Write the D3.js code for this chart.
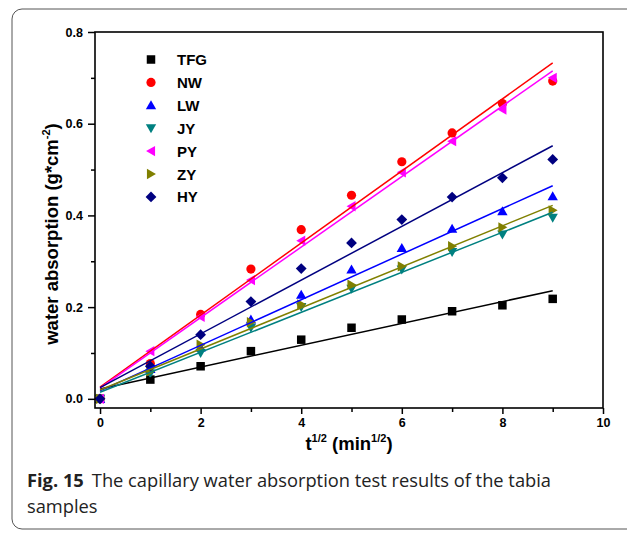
<!DOCTYPE html>
<html><head><meta charset="utf-8">
<script src="https://cdn.jsdelivr.net/npm/d3@7"></script>
<style>body{margin:0;background:#fff}svg{display:block}</style>
</head><body>
<svg id="c" width="627" height="542"></svg>
<script>
const xValues = [0, 1, 2, 3, 4, 5, 6, 7, 8, 9];
const TFG = [0, 0.042, 0.071, 0.104, 0.129, 0.155, 0.173, 0.191, 0.204, 0.218];
const NW  = [0, 0.077, 0.184, 0.283, 0.369, 0.444, 0.517, 0.580, 0.644, 0.693];
const LW  = [0, 0.065, 0.112, 0.173, 0.227, 0.282, 0.329, 0.371, 0.409, 0.442];
const JY  = [0, 0.055, 0.100, 0.155, 0.200, 0.240, 0.282, 0.320, 0.358, 0.395];
const PY  = [0, 0.104, 0.179, 0.259, 0.345, 0.420, 0.494, 0.562, 0.631, 0.700];
const ZY  = [0, 0.060, 0.118, 0.167, 0.206, 0.249, 0.289, 0.333, 0.374, 0.411];
const HY  = [0, 0.071, 0.140, 0.212, 0.284, 0.340, 0.391, 0.440, 0.482, 0.522];
const seriesNames = ["TFG", "NW", "LW", "JY", "PY", "ZY", "HY"];
const xTicks = [0, 2, 4, 6, 8, 10];
const yTicks = [0.0, 0.2, 0.4, 0.6, 0.8];

const seriesData = {TFG, NW, LW, JY, PY, ZY, HY};
const colors = {TFG:"#000000", NW:"#ff0000", LW:"#0000ff", JY:"#008080", PY:"#ff00ff", ZY:"#808000", HY:"#000080"};
const shapes = {TFG:"square", NW:"circle", LW:"up", JY:"down", PY:"left", ZY:"right", HY:"diamond"};

const svg = d3.select("#c");
const L = 95, R = 603, T = 32, B = 408;
const x = d3.scaleLinear().domain([-0.1, 10]).range([L, R]);
const y = d3.scaleLinear().domain([-0.02, 0.8]).range([B, T]);

// outer frame (rounded, right side off-canvas)
svg.append("rect").attr("x", 12).attr("y", 9).attr("width", 640).attr("height", 520)
  .attr("rx", 10).attr("fill", "none").attr("stroke", "#555").attr("stroke-width", 1);

function symbolPath(shape, s) {
  const h = s / 2;
  switch (shape) {
    case "square": return `M${-h},${-h}H${h}V${h}H${-h}Z`;
    case "up": return `M0,${-h*1.1}L${h*1.15},${h*0.9}L${-h*1.15},${h*0.9}Z`;
    case "down": return `M0,${h*1.1}L${h*1.15},${-h*0.9}L${-h*1.15},${-h*0.9}Z`;
    case "left": return `M${-h*1.1},0L${h*0.9},${-h*1.15}L${h*0.9},${h*1.15}Z`;
    case "right": return `M${h*1.1},0L${-h*0.9},${-h*1.15}L${-h*0.9},${h*1.15}Z`;
    case "diamond": return `M0,${-h*1.2}L${h*1.2},0L0,${h*1.2}L${-h*1.2},0Z`;
  }
}
function drawSymbol(g, shape, cx, cy, color) {
  if (shape === "circle") {
    g.append("circle").attr("cx", cx).attr("cy", cy).attr("r", 4.6).attr("fill", color);
  } else {
    const s = shape === "square" ? 8.5 : 9;
    g.append("path").attr("d", symbolPath(shape, s)).attr("transform", `translate(${cx},${cy})`).attr("fill", color);
  }
}

// linear fits
function fit(ys) {
  const n = xValues.length;
  const mx = d3.mean(xValues), my = d3.mean(ys);
  let sxy = 0, sxx = 0;
  for (let i = 0; i < n; i++) { sxy += (xValues[i]-mx)*(ys[i]-my); sxx += (xValues[i]-mx)**2; }
  const b = sxy / sxx; return {a: my - b*mx, b};
}

const plot = svg.append("g");
seriesNames.forEach(name => {
  const ys = seriesData[name];
  const g = plot.append("g");
  xValues.forEach((xv, i) => drawSymbol(g, shapes[name], x(xv), y(ys[i]), colors[name]));
});
seriesNames.forEach(name => {
  const f = fit(seriesData[name]);
  const x0 = d3.min(xValues), x1 = d3.max(xValues);
  plot.append("line").attr("x1", x(x0)).attr("y1", y(f.a + f.b*x0))
    .attr("x2", x(x1)).attr("y2", y(f.a + f.b*x1))
    .attr("stroke", colors[name]).attr("stroke-width", 1.5);
});

// axes frame
const fnt = "Liberation Sans, Arial, sans-serif";
svg.append("rect").attr("x", L).attr("y", T).attr("width", R-L).attr("height", B-T)
  .attr("fill", "none").attr("stroke", "#000").attr("stroke-width", 1.6);

const xAxis = svg.append("g").attr("transform", `translate(0,${B})`)
  .call(d3.axisBottom(x).tickValues(xTicks).tickFormat(d3.format("d")).tickSize(6).tickPadding(4));
const xMinor = svg.append("g").attr("transform", `translate(0,${B})`)
  .call(d3.axisBottom(x).tickValues([1,3,5,7,9]).tickFormat("").tickSize(4));
const yAxis = svg.append("g").attr("transform", `translate(${L},0)`)
  .call(d3.axisLeft(y).tickValues(yTicks).tickFormat(d3.format(".1f")).tickSize(7).tickPadding(5));
const yMinor = svg.append("g").attr("transform", `translate(${L},0)`)
  .call(d3.axisLeft(y).tickValues([0.1,0.3,0.5,0.7]).tickFormat("").tickSize(4));
[xAxis, xMinor, yAxis, yMinor].forEach(a => {
  a.select(".domain").remove();
  a.selectAll("line").attr("stroke", "#000").attr("stroke-width", 1.5);
  a.selectAll("text").attr("font-family", fnt).attr("font-weight", "bold").attr("font-size", 12.5).attr("fill", "#000");
});

// axis titles
const xt = svg.append("text").attr("x", 349).attr("y", 450).attr("text-anchor", "middle")
  .attr("font-family", fnt).attr("font-weight", "bold").attr("font-size", 18.5);
xt.append("tspan").text("t");
xt.append("tspan").attr("dy", -8).attr("font-size", 11).text("1/2");
xt.append("tspan").attr("dy", 8).text(" (min");
xt.append("tspan").attr("dy", -8).attr("font-size", 11).text("1/2");
xt.append("tspan").attr("dy", 8).text(")");

const yt = svg.append("text").attr("transform", "translate(58,234) rotate(-90)").attr("text-anchor", "middle")
  .attr("font-family", fnt).attr("font-weight", "bold").attr("font-size", 18.5);
yt.append("tspan").text("water absorption (g*cm");
yt.append("tspan").attr("dy", -8).attr("font-size", 11).text("-2");
yt.append("tspan").attr("dy", 8).text(")");

// legend
const leg = svg.append("g");
seriesNames.forEach((name, i) => {
  const cy = 59.5 + i * 22.9;
  drawSymbol(leg, shapes[name], 151, cy, colors[name]);
  leg.append("text").attr("x", 177).attr("y", cy + 5.5).text(name)
    .attr("font-family", fnt).attr("font-weight", "bold").attr("font-size", 15);
});

// caption
const cf = "Open Sans, sans-serif";
const c1 = svg.append("text").attr("x", 27).attr("y", 487).attr("font-family", cf).attr("font-size", 18.3).attr("fill", "#222");
c1.append("tspan").attr("font-weight", "bold").text("Fig. 15");
c1.append("tspan").attr("dx", 8).text("The capillary water absorption test results of the tabia");
svg.append("text").attr("x", 27).attr("y", 513).attr("font-family", cf).attr("font-size", 18.3).attr("fill", "#222").text("samples");
</script>
</body></html>
